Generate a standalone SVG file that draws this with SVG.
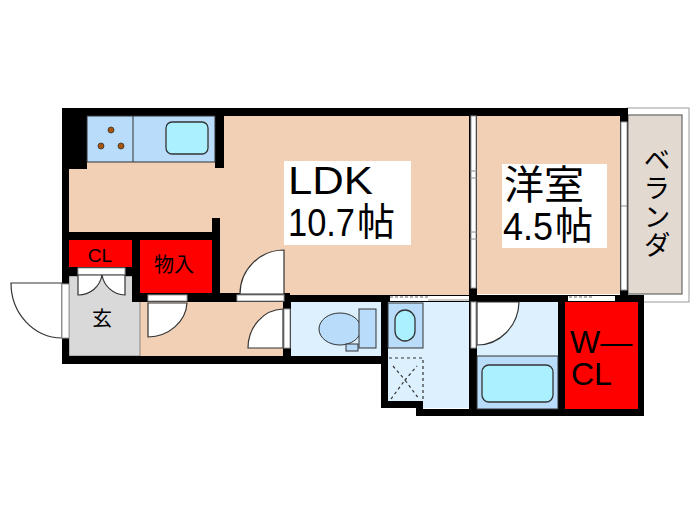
<svg xmlns="http://www.w3.org/2000/svg" width="700" height="525" viewBox="0 0 700 525">
<style>
.w{fill:#000}
.f{fill:#f2d0b5}
.b{fill:#dcf0fe}
.c{fill:#b8dcfa;stroke:#333;stroke-width:1}
.s{fill:#aaf0ff;stroke:#333;stroke-width:1.3}
.r{fill:#fe0000}
.d{fill:#fff;stroke:#333;stroke-width:1.2}
.fr{fill:#fff;stroke:#999;stroke-width:1}
text{font-family:"Noto Sans CJK JP","Liberation Sans",sans-serif;fill:#000}
.l{font-family:"Liberation Sans","Noto Sans CJK JP",sans-serif}
</style>
<rect width="700" height="525" fill="#fff"/>
<g id="floors">
<rect class="f" x="69" y="116" width="401" height="124"/>
<rect class="f" x="220" y="116" width="250" height="180"/>
<rect class="f" x="477" y="116" width="150" height="178"/>
<rect x="627" y="108" width="62" height="194" fill="#fff" stroke="#999"/>
<rect x="628" y="115" width="54" height="179" fill="#e2d9d1" stroke="#666" stroke-width="1.2"/>
<rect class="f" x="140" y="302" width="143" height="54"/>
<rect x="69" y="276" width="71" height="80" fill="#d9d9d9" stroke="#555" stroke-width=".6"/>
<rect class="b" x="291" y="302" width="90" height="54"/>
<rect class="b" x="388" y="302" width="81" height="106"/>
<rect class="b" x="477" y="302" width="81" height="107"/>
</g>
<g id="walls">
<rect class="w" x="62" y="108" width="566" height="8"/>
<rect class="w" x="62" y="108" width="7" height="256"/>
<rect class="w" x="62" y="108" width="25" height="61"/>
<rect class="w" x="215" y="116" width="9" height="52"/>
<rect class="w" x="62" y="232" width="158" height="8"/>
<rect class="w" x="212" y="218" width="8" height="84"/>
<rect class="w" x="132" y="240" width="8" height="62"/>
<rect class="w" x="62" y="267" width="78" height="9"/>
<rect class="w" x="132" y="293" width="158" height="9"/>
<rect class="w" x="62" y="356" width="326" height="8"/>
<rect class="w" x="283" y="296" width="8" height="68"/>
<rect class="w" x="283" y="295" width="361" height="7"/>
<rect class="w" x="381" y="295" width="7" height="113"/>
<rect class="w" x="381" y="401" width="42" height="7"/>
<rect class="w" x="416" y="409" width="228" height="7"/>
<rect class="w" x="416" y="401" width="7" height="15"/>
<rect class="w" x="469" y="108" width="8" height="308"/>
<rect class="w" x="558" y="295" width="7" height="121"/>
<rect class="w" x="620" y="108" width="8" height="194"/>
<rect class="w" x="638" y="295" width="6" height="121"/>
</g>
<g id="kitchen">
<rect class="c" x="87" y="116" width="128" height="46"/>
<line x1="133" y1="116" x2="133" y2="162" stroke="#333"/>
<rect class="s" x="166" y="122" width="42" height="32" rx="6"/>
<g fill="#a8540c" stroke="#333" stroke-width=".8"><circle cx="111" cy="130" r="3"/><circle cx="101" cy="146" r="3"/><circle cx="121" cy="146" r="3"/></g>
</g>
<g id="storage">
<rect class="r" x="69" y="240" width="63" height="27"/>
<rect class="r" x="140" y="240" width="72" height="53"/>
<rect class="r" x="565" y="302" width="73" height="107"/>
<text class="l" x="100" y="262" font-size="19" text-anchor="middle">CL</text>
<text x="174" y="272" font-size="20" text-anchor="middle">物入</text>
<text class="l" x="570" y="353" font-size="32">W—</text>
<text class="l" x="571" y="385" font-size="32">CL</text>
</g>
<g id="genkan">
<text x="102" y="326" font-size="20" text-anchor="middle">玄</text>
<path class="d" d="M62 283H11A51 55 0 0 0 62 338Z"/>
<rect class="fr" x="62" y="284" width="7" height="54"/>
<rect class="fr" x="78" y="268" width="47" height="7"/>
<path class="d" d="M78 275V295A24 24 0 0 0 102 275ZM125 275V295A24 24 0 0 1 102 275Z"/>
</g>
<g id="doors">
<path class="d" d="M148 303V337A40 36 0 0 0 187 303Z"/>
<rect class="fr" x="148" y="295" width="39" height="6"/>
<path class="d" d="M284 250V294H240A44 44 0 0 1 284 250Z"/>
<rect class="fr" x="237" y="295" width="47" height="6"/>
<path class="d" d="M283 309V348H248A36 39 0 0 1 283 309Z"/>
<rect class="fr" x="284" y="309" width="6" height="39"/>
<path class="d" d="M477 302H519A42 44 0 0 1 477 345Z"/>
<rect class="fr" x="471" y="302" width="5" height="46"/>
</g>
<g id="toilet">
<ellipse class="c" cx="340" cy="329" rx="21" ry="16"/>
<rect class="c" x="359" y="309" width="17" height="39"/>
<rect class="c" x="346" y="344" width="12" height="7"/>
</g>
<g id="wash">
<rect class="c" x="388" y="303" width="35" height="45"/>
<rect class="s" x="395" y="310" width="20" height="31" rx="10"/>
<g fill="none" stroke="#333" stroke-width="1.2" stroke-dasharray="3 3">
<path d="M389 358H423V399"/>
<path d="M393 366L405 380L417 366M391 399L405 380L419 399"/>
</g>
</g>
<g id="bath">
<rect class="c" x="477" y="356" width="81" height="53"/>
<rect class="s" x="482" y="365" width="71" height="37" rx="7"/>
</g>
<g id="windows">
<rect class="fr" x="471" y="116" width="5" height="172"/>
<path d="M470 171H477M470 178H477M470 232H477M470 239H477" stroke="#888"/>
<rect class="fr" x="621" y="122" width="6" height="168"/>
<path d="M621 206H627" stroke="#888"/>
<rect x="390" y="296" width="79" height="5" fill="#fff"/>
<path d="M390 297H428" stroke="#999" stroke-width="1.5" stroke-dasharray="3 2"/>
<path d="M428 300H469" stroke="#999"/>
<rect x="568" y="296" width="47" height="5" fill="#fff"/>
<path d="M569 297H592" stroke="#999" stroke-width="1.5" stroke-dasharray="3 2"/>
</g>
<g id="labels">
<rect x="284" y="161" width="127" height="84" fill="#fff"/>
<rect x="502" y="164" width="105" height="84" fill="#fff"/>
<text class="l" x="288" y="194" font-size="38" textLength="85" lengthAdjust="spacingAndGlyphs">LDK</text>
<text class="l" x="288" y="236" font-size="38" textLength="67" lengthAdjust="spacingAndGlyphs">10.7</text>
<text x="357" y="235" font-size="38">帖</text>
<text x="504" y="199" font-size="40">洋室</text>
<text class="l" x="503" y="240" font-size="38" textLength="50" lengthAdjust="spacingAndGlyphs">4.5</text>
<text x="555" y="239" font-size="38">帖</text>
<text x="657" y="146" font-size="27" letter-spacing="1.5" style="writing-mode:vertical-rl">ベランダ</text>
</g>
</svg>
